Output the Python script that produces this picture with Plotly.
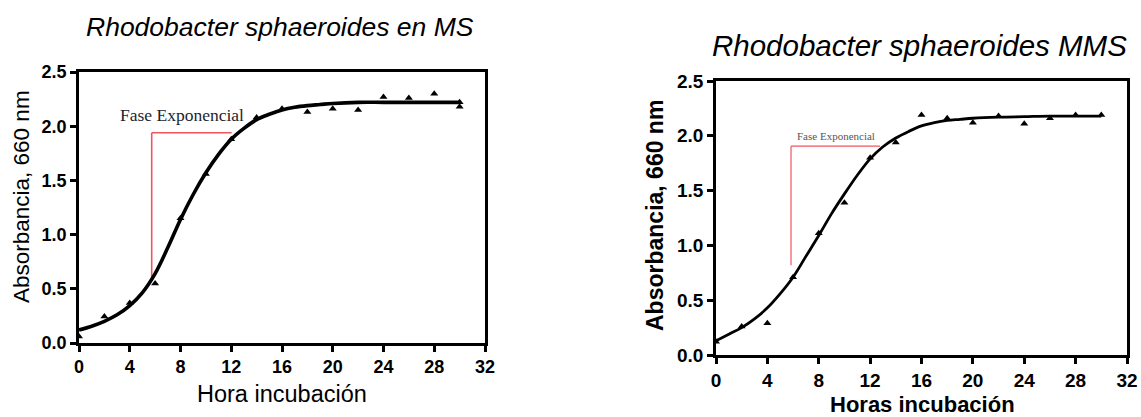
import plotly.graph_objects as go

# ---- Medio MS ----
ms_horas = [0, 2, 4, 6, 8, 10, 12, 14, 16, 18, 20, 22, 24, 26, 28, 30, 30]
ms_abs = [0.06, 0.245, 0.37, 0.55, 1.15, 1.56, 1.88, 2.08, 2.16, 2.13, 2.16, 2.15, 2.27, 2.26, 2.30, 2.18, 2.22]
ms_curva_h = [0, 1, 2, 3, 4, 5, 6, 7, 8, 9, 10, 11, 12, 13, 14, 15, 16, 17, 18, 19, 20, 22, 24, 26, 28, 30]
ms_curva_y = [0.12, 0.155, 0.20, 0.26, 0.345, 0.465, 0.64, 0.88, 1.14, 1.37, 1.57, 1.74, 1.88, 1.98, 2.06, 2.11, 2.15,
              2.175, 2.19, 2.20, 2.21, 2.22, 2.22, 2.22, 2.22, 2.22]

# ---- Medio MMS ----
mms_horas = [0, 2, 4, 6, 8, 10, 12, 14, 16, 18, 20, 22, 24, 26, 28, 30]
mms_abs = [0.12, 0.26, 0.29, 0.71, 1.11, 1.39, 1.80, 1.94, 2.19, 2.16, 2.12, 2.18, 2.11, 2.16, 2.19, 2.19]
mms_curva_h = [0, 1, 2, 3, 4, 5, 6, 7, 8, 9, 10, 11, 12, 13, 14, 15, 16, 17, 18, 19, 20, 22, 24, 26, 28, 30]
mms_curva_y = [0.13, 0.19, 0.25, 0.33, 0.43, 0.56, 0.71, 0.90, 1.09, 1.29, 1.47, 1.64, 1.79, 1.90, 1.98, 2.04, 2.09,
               2.12, 2.14, 2.15, 2.16, 2.17, 2.175, 2.18, 2.18, 2.18]

x_ticks = [0, 4, 8, 12, 16, 20, 24, 28, 32]
y_ticks = [0.0, 0.5, 1.0, 1.5, 2.0, 2.5]

# fase exponencial: [x inicio, x fin, y inferior, y superior]
fase_ms = [5.73, 12.03, 0.60, 1.94]
fase_mms = [5.84, 12.78, 0.82, 1.905]

W, H = 1141, 417

fig = go.Figure()

fig.add_trace(go.Scatter(x=ms_curva_h, y=ms_curva_y, mode="lines", line=dict(color="black", width=3.6, shape="spline"),
                         xaxis="x", yaxis="y", showlegend=False, hoverinfo="skip"))
fig.add_trace(go.Scatter(x=ms_horas, y=ms_abs, mode="markers",
                         marker=dict(symbol="triangle-up", size=7, color="black"),
                         xaxis="x", yaxis="y", showlegend=False))
fig.add_trace(go.Scatter(x=mms_curva_h, y=mms_curva_y, mode="lines", line=dict(color="black", width=2.8, shape="spline"),
                         xaxis="x2", yaxis="y2", showlegend=False, hoverinfo="skip"))
fig.add_trace(go.Scatter(x=mms_horas, y=mms_abs, mode="markers",
                         marker=dict(symbol="triangle-up", size=7, color="black"),
                         xaxis="x2", yaxis="y2", showlegend=False))


def px_x(p):
    return p / W


def px_y(p):
    return 1 - p / H


axis_common = dict(showgrid=False, zeroline=False, showline=True, linecolor="black", linewidth=2.5,
                   mirror=True, ticks="outside", ticklen=6, tickwidth=2.5, tickcolor="black", automargin=False)

fig.update_layout(
    width=W, height=H,
    margin=dict(l=0, r=0, t=0, b=0, autoexpand=False),
    paper_bgcolor="white", plot_bgcolor="white",
    xaxis=dict(domain=[px_x(79), px_x(485)], range=[0, 32], tickvals=x_ticks, anchor="y",
               tickfont=dict(family="Liberation Sans", size=18, color="black", weight="bold"), **axis_common),
    yaxis=dict(domain=[px_y(343), px_y(72)], range=[0, 2.5], tickvals=y_ticks, tickformat=".1f", anchor="x",
               tickfont=dict(family="Liberation Sans", size=18, color="black", weight="bold"), **axis_common),
    xaxis2=dict(domain=[px_x(716), px_x(1127)], range=[0, 32], tickvals=x_ticks, anchor="y2",
                tickfont=dict(family="Liberation Sans", size=19, color="black", weight="bold"), **axis_common),
    yaxis2=dict(domain=[px_y(355), px_y(81)], range=[0, 2.5], tickvals=y_ticks, tickformat=".1f", anchor="x2",
                tickfont=dict(family="Liberation Sans", size=19, color="black", weight="bold"), **axis_common),
)

# líneas rojas que marcan la fase exponencial
for (x0, x1, y0, y1), xr, yr, lw in [(fase_ms, "x", "y", 1.6), (fase_mms, "x2", "y2", 1.2)]:
    fig.add_shape(type="line", x0=x0, x1=x0, y0=y0, y1=y1, xref=xr, yref=yr,
                  line=dict(color="#f0555e", width=lw), layer="below")
    fig.add_shape(type="line", x0=x0, x1=x1, y0=y1, y1=y1, xref=xr, yref=yr,
                  line=dict(color="#f0555e", width=lw), layer="below")

fig.add_annotation(x=8.15, y=2.10, xref="x", yref="y", text="Fase Exponencial", showarrow=False,
                   xanchor="center", yanchor="middle",
                   font=dict(family="Liberation Serif", size=17.5, color="#1e1e2e"))
fig.add_annotation(x=9.33, y=2.0, xref="x2", yref="y2", text="Fase Exponencial", showarrow=False,
                   xanchor="center", yanchor="middle",
                   font=dict(family="Liberation Serif", size=11, color="#555555"))


def etiqueta(x, y, texto, size, angle=0):
    fig.add_annotation(x=px_x(x), y=px_y(y), xref="paper", yref="paper", text=texto, textangle=angle,
                       showarrow=False, xanchor="center", yanchor="middle",
                       font=dict(family="Liberation Sans", size=size, color="black"))


# títulos
etiqueta(280, 27, "<i>Rhodobacter sphaeroides en MS</i>", 26.5)
etiqueta(919, 45, "<i>Rhodobacter sphaeroides MMS</i>", 29.5)

# títulos de ejes
etiqueta(22, 197, "Absorbancia, 660 nm", 22.5, -90)
etiqueta(655, 216, "<b>Absorbancia, 660 nm</b>", 23, -90)
etiqueta(282, 394, "Hora incubación", 23.5)
etiqueta(922, 404, "<b>Horas incubación</b>", 22)

fig.write_html("out.html")
